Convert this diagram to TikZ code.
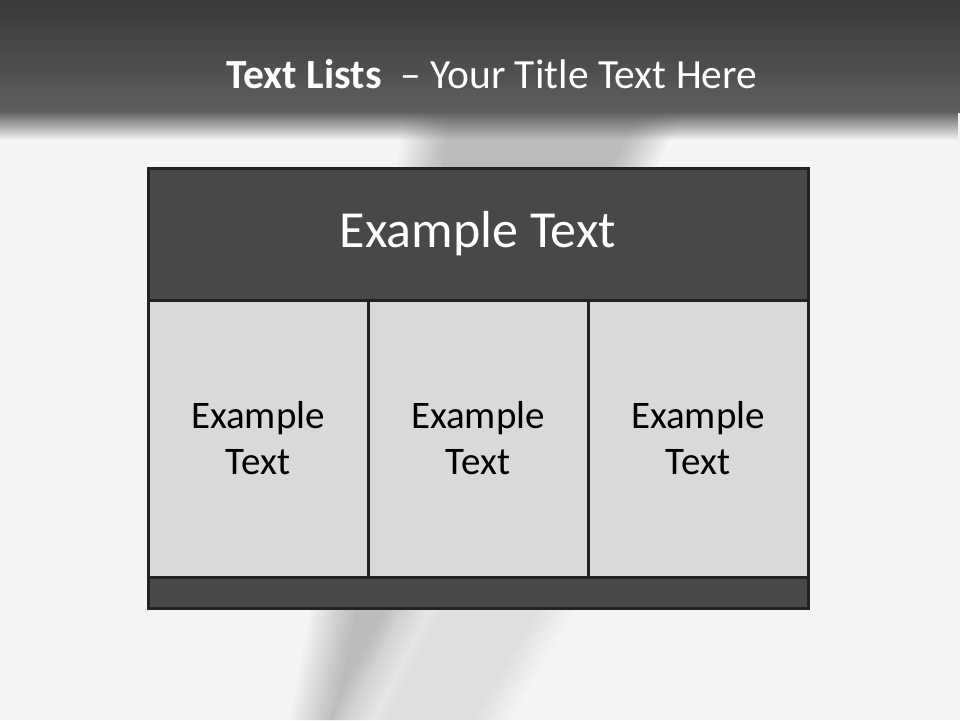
\documentclass[tikz,border=0pt]{standalone}
\usepackage{fontspec}
\setmainfont{Carlito}
\usetikzlibrary{positioning,fadings}

\definecolor{slidebg}{HTML}{F4F4F4}
\definecolor{bartop}{HTML}{383838}
\definecolor{barbot}{HTML}{5E5E5E}
\definecolor{darkfill}{HTML}{484848}
\definecolor{lightfill}{HTML}{D9D9D9}
\definecolor{edgecol}{HTML}{222222}

\begin{document}
\begin{tikzpicture}[
    x=1pt, y=-1pt,
    hdrbox/.style={draw=edgecol, line width=3pt, fill=darkfill, minimum width=660pt, minimum height=132pt, outer sep=0pt, inner sep=0pt, text=white, font=\fontsize{52}{60}\selectfont},
    cellbox/.style={draw=edgecol, line width=3pt, fill=lightfill, minimum width=220pt, minimum height=277pt, outer sep=0pt, inner sep=0pt, align=center, font=\fontsize{39}{46}\selectfont},
    footbox/.style={draw=edgecol, line width=3pt, fill=darkfill, minimum width=660pt, minimum height=31pt, outer sep=0pt, inner sep=0pt},
]
\useasboundingbox (0,0) rectangle (960,720);

% slide background
\fill[slidebg] (0,0) rectangle (960,720);

% blurred diagonal shadow behind the table
\foreach \s in {0,4,...,44}
    \fill[black, opacity=0.018] (410+\s,100) -- (690-\s,100) -- (372-\s,720) -- (290+\s,720) -- cycle;
\foreach \s in {0,6,...,36}
    \fill[black, opacity=0.012] (410+\s,600) -- (580-\s,600) -- (510-\s,720) -- (350+\s,720) -- cycle;

% title bar
\shade[top color=bartop, bottom color=barbot] (0,0) rectangle (960,112);
\fill[barbot, path fading=south] (0,111) rectangle (960,140);

% title
\node[text=white, font=\fontsize{41.5}{48}\selectfont, anchor=base] (title) at (492,88) {\textbf{Text Lists}\ \ -- Your Title Text Here};

% table
\node[hdrbox, anchor=north west] (hdr) at (148,168) {\raisebox{-3pt}{Example Text}};
\node[cellbox, below right=0pt and 0pt of hdr.south west] (cellA) {Example\\Text};
\node[cellbox, right=0pt of cellA] (cellB) {Example\\Text};
\node[cellbox, right=0pt of cellB] (cellC) {Example\\Text};
\node[footbox, below=0pt of cellB] (foot) {};
\end{tikzpicture}
\end{document}
